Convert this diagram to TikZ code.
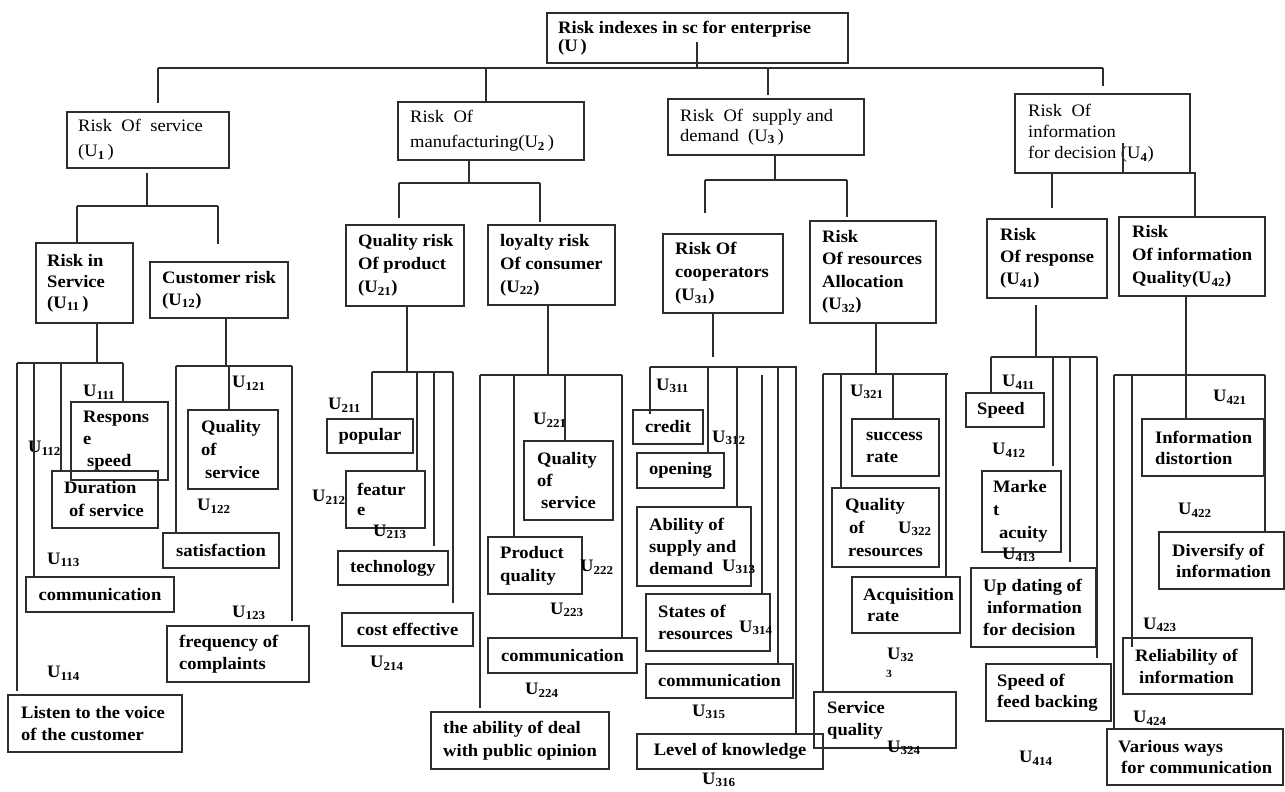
\documentclass[tikz,border=0pt]{standalone}
\usepackage{fontspec}
\setmainfont{Liberation Serif}[FakeStretch=1.06]
\definecolor{lc}{RGB}{45,45,45}
\newcommand\fsb[1]{\fontsize{17.5}{#1}\selectfont\bfseries}
\newcommand\fsr[1]{\fontsize{17.5}{#1}\selectfont\mdseries}
\newcommand\subU[1]{\textsubscript{\bfseries #1}}
\begin{document}
\begin{tikzpicture}[x=1pt,y=-1pt,
  bx/.style 2 args={draw=lc, line width=1.1pt, minimum width=#1, minimum height=#2, anchor=north west, inner sep=0pt, outer sep=0pt, font=\fsb{21}},
  tl/.style={anchor=west, align=left, inner sep=0pt, font=\fsb{21}},
  ul/.style={anchor=west, inner sep=0pt, font=\fsb{21}},
  ln/.style={draw=lc, line width=1.1pt},
  tk/.style={draw=lc, line width=1.9pt}]
\useasboundingbox[fill=white] (0,0) rectangle (1285,792);

% ---------- level 0 and 1 ----------
\node[bx={301}{50}, label={[tl,xshift=11pt,font=\fsb{18}]west:{Risk indexes in sc for enterprise\\(U\,)}}] (root) at (547,13) {};
\node[bx={162}{56}, label={[tl,xshift=11pt,font=\fsr{25}]west:{Risk~ Of~ service\\(U\subU{1}\,)}}] (u1) at (67,112) {};
\node[bx={186}{58}, label={[tl,xshift=12pt,font=\fsr{25}]west:{Risk~ Of\\manufacturing(U\subU{2}\,)}}] (u2) at (398,102) {};
\node[bx={196}{56}, label={[tl,xshift=12pt,font=\fsr{20}]west:{Risk~ Of~ supply and\\demand~ (U\subU{3}\,)}}] (u3) at (668,99) {};
\node[bx={175}{79}, label={[tl,xshift=13pt,font=\fsr{21}]west:{Risk~ Of\\information\\for decision (U\subU{4})}}] (u4) at (1015,94) {};

% ---------- level 2 ----------
\node[bx={97}{80}, label={[tl,xshift=11pt]west:{Risk in\\Service\\(U\subU{11}\,)}}] (u11) at (36,243) {};
\node[bx={138}{56}, label={[tl,xshift=12pt,font=\fsb{22}]west:{Customer risk\\(U\subU{12})}}] (u12) at (150,262) {};
\node[bx={118}{81}, label={[tl,xshift=12pt,font=\fsb{23}]west:{Quality risk\\Of product\\(U\subU{21})}}] (u21) at (346,225) {};
\node[bx={127}{80}, label={[tl,xshift=12pt,font=\fsb{23}]west:{loyalty risk\\Of consumer\\(U\subU{22})}}] (u22) at (488,225) {};
\node[bx={120}{79}, label={[tl,xshift=12pt,font=\fsb{23}]west:{Risk Of\\cooperators\\(U\subU{31})}}] (u31) at (663,234) {};
\node[bx={126}{102}, label={[tl,xshift=12pt,font=\fsb{22.5}]west:{Risk\\Of resources\\Allocation\\(U\subU{32})}}] (u32) at (810,221) {};
\node[bx={120}{79}, label={[tl,xshift=13pt,font=\fsb{22}]west:{Risk\\Of response\\(U\subU{41})}}] (u41) at (987,219) {};
\node[bx={146}{79}, label={[tl,xshift=13pt,font=\fsb{23}]west:{Risk\\Of information\\Quality(U\subU{42})}}] (u42) at (1119,217) {};

% ---------- leaves U1 ----------
\node[bx={97}{78}, label={[tl,xshift=12pt,font=\fsb{22}]west:{Respons\\e\\\hspace{4pt}speed}}] (resp) at (71,402) {};
\node[bx={106}{57}, label={[tl,xshift=12pt,font=\fsb{23}]west:{Duration\\\hspace{5pt}of service}}] (dur) at (52,471) {};
\node[bx={148}{35}] (comA) at (26,577) {communication};
\node[bx={174}{57}, label={[tl,xshift=13pt,font=\fsb{22}]west:{Listen to the voice\\of the customer}}] (listen) at (8,695) {};
\node[bx={90}{79}, label={[tl,xshift=13pt,font=\fsb{23}]west:{Quality\\of\\\hspace{4pt}service}}] (qosA) at (188,410) {};
\node[bx={116}{35}] (sat) at (163,533) {satisfaction};
\node[bx={142}{56}, label={[tl,xshift=12pt,font=\fsb{22}]west:{frequency of\\complaints}}] (freq) at (167,626) {};

% ---------- leaves U2 ----------
\node[bx={86}{34}] (pop) at (327,419) {popular};
\node[bx={79}{57}, label={[tl,xshift=11pt,font=\fsb{20}]west:{featur\\e}}] (feat) at (346,471) {};
\node[bx={110}{34}] (tech) at (338,551) {technology};
\node[bx={131}{33}] (cost) at (342,613) {cost effective};
\node[bx={89}{79}, label={[tl,xshift=13pt,font=\fsb{22}]west:{Quality\\of\\\hspace{4pt}service}}] (qosB) at (524,441) {};
\node[bx={94}{57}, label={[tl,xshift=12pt,font=\fsb{23}]west:{Product\\quality}}] (pq) at (488,537) {};
\node[bx={149}{35}] (comB) at (488,638) {communication};
\node[bx={178}{57}, label={[tl,xshift=12pt,font=\fsb{23}]west:{the ability of deal\\with public opinion}}] (abl) at (431,712) {};

% ---------- leaves U3 ----------
\node[bx={70}{34}] (credit) at (633,410) {credit};
\node[bx={87}{35}] (open) at (637,453) {opening};
\node[bx={114}{79}, label={[tl,xshift=12pt,font=\fsb{22}]west:{Ability of\\supply and\\demand}}] (abil) at (637,507) {};
\node[bx={124}{57}, label={[tl,xshift=12pt,font=\fsb{22}]west:{States of\\resources}}] (states) at (646,594) {};
\node[bx={147}{34}] (comC) at (646,664) {communication};
\node[bx={186}{35}] (level) at (637,734) {Level of knowledge};
\node[bx={87}{57}, label={[tl,xshift=14pt,font=\fsb{22}]west:{success\\rate}}] (succ) at (852,419) {};
\node[bx={107}{79}, label={[tl,xshift=13pt,font=\fsb{23}]west:{Quality\\\hspace{4pt}of\\\hspace{3pt}resources}}] (qres) at (832,488) {};
\node[bx={108}{56}, label={[tl,xshift=11pt,font=\fsb{21}]west:{Acquisition\\\hspace{4pt}rate}}] (acq) at (852,577) {};
\node[bx={142}{56}, label={[tl,xshift=13pt,font=\fsb{22}]west:{Service\\quality}}] (servq) at (814,692) {};

% ---------- leaves U4 ----------
\node[bx={78}{34}, label={[tl,xshift=11pt]west:{Speed}}] (speed) at (966,393) {};
\node[bx={79}{81}, label={[tl,xshift=11pt,font=\fsb{23}]west:{Marke\\t\\\hspace{6pt}acuity}}] (market) at (982,471) {};
\node[bx={125}{79}, label={[tl,xshift=12pt,font=\fsb{22}]west:{Up dating of\\\hspace{4pt}information\\for decision}}] (upd) at (971,568) {};
\node[bx={125}{57}, label={[tl,xshift=11pt,font=\fsb{21}]west:{Speed of\\feed backing}}] (sofb) at (986,664) {};
\node[bx={122}{57}, label={[tl,xshift=13pt,font=\fsb{21}]west:{Information\\distortion}}] (idist) at (1142,419) {};
\node[bx={125}{57}, label={[tl,xshift=13pt,font=\fsb{21}]west:{Diversify of\\\hspace{4pt}information}}] (div) at (1159,532) {};
\node[bx={129}{56}, label={[tl,xshift=12pt,font=\fsb{22}]west:{Reliability of\\\hspace{4pt}information}}] (rel) at (1123,638) {};
\node[bx={176}{56}, label={[tl,xshift=11pt,font=\fsb{21}]west:{Various ways\\\hspace{3pt}for communication}}] (var) at (1107,729) {};

% ---------- U labels ----------
\node[ul] (l111) at (83,392) {U\subU{111}};
\node[ul] (l112) at (28,448) {U\subU{112}};
\node[ul] (l113) at (47,560) {U\subU{113}};
\node[ul] (l114) at (47,673) {U\subU{114}};
\node[ul] (l121) at (232,383) {U\subU{121}};
\node[ul] (l122) at (197,506) {U\subU{122}};
\node[ul] (l123) at (232,613) {U\subU{123}};
\node[ul] (l211) at (328,405) {U\subU{211}};
\node[ul] (l212) at (312,497) {U\subU{212}};
\node[ul] (l213) at (373,532) {U\subU{213}};
\node[ul] (l214) at (370,663) {U\subU{214}};
\node[ul] (l221) at (533,420) {U\subU{221}};
\node[ul] (l222) at (580,567) {U\subU{222}};
\node[ul] (l223) at (550,610) {U\subU{223}};
\node[ul] (l224) at (525,690) {U\subU{224}};
\node[ul] (l311) at (656,386) {U\subU{311}};
\node[ul] (l312) at (712,438) {U\subU{312}};
\node[ul] (l313) at (722,567) {U\subU{313}};
\node[ul] (l314) at (739,628) {U\subU{314}};
\node[ul] (l315) at (692,712) {U\subU{315}};
\node[ul] (l316) at (702,780) {U\subU{316}};
\node[ul] (l321) at (850,392) {U\subU{321}};
\node[ul] (l322) at (898,529) {U\subU{322}};
\node[ul] (l323) at (887,655) {U\subU{32}};
\node[ul, font=\fontsize{11}{12}\selectfont\bfseries] (l323b) at (886,674) {3};
\node[ul] (l324) at (887,748) {U\subU{324}};
\node[ul] (l411) at (1002,382) {U\subU{411}};
\node[ul] (l412) at (992,450) {U\subU{412}};
\node[ul] (l413) at (1002,555) {U\subU{413}};
\node[ul] (l414) at (1019,758) {U\subU{414}};
\node[ul] (l421) at (1213,397) {U\subU{421}};
\node[ul] (l422) at (1178,510) {U\subU{422}};
\node[ul] (l423) at (1143,625) {U\subU{423}};
\node[ul] (l424) at (1133,718) {U\subU{424}};

% ---------- connectors: top ----------
\coordinate (bar) at (697,68);
\draw[ln] (697,42) -- (bar);
\draw[ln] (158,68) -- (1103,68);
\draw[ln] (158,68) -- (158,103);
\draw[ln] (486,68) -- (486,0 |- u2.north);
\draw[ln] (768,68) -- (768,95);
\draw[ln] (1103,68) -- (1103,86);

% U1
\draw[ln] (147,173) -- (147,206);
\draw[ln] (77,206) -- (218,206);
\draw[ln] (77,206) -- (77,0 |- u11.north);
\draw[ln] (218,206) -- (218,244);
% U2
\draw[ln] (469,0 |- u2.south) -- (469,183);
\draw[ln] (399,183) -- (540,183);
\draw[ln] (399,183) -- (399,218);
\draw[ln] (540,183) -- (540,222);
% U3
\draw[ln] (775,0 |- u3.south) -- (775,180);
\draw[ln] (705,180) -- (847,180);
\draw[ln] (705,180) -- (705,213);
\draw[ln] (847,180) -- (847,217);
% U4
\draw[ln] (1123,143) -- (1123,0 |- u4.south);
\draw[ln] (1052,0 |- u4.south) -- (1052,208);
\draw[ln] (u4.south east) -- (1195,173) -- (1195,0 |- u42.north);

% U11
\draw[ln] (97,0 |- u11.south) -- (97,363);
\draw[ln] (17,363) -- (123,363);
\draw[ln] (17,363) -- (17,691);
\draw[ln] (34,363) -- (34,0 |- comA.north);
\draw[ln] (61,363) -- (61,0 |- dur.north);
\draw[ln] (123,363) -- (123,0 |- resp.north);
% U12
\draw[ln] (226,0 |- u12.south) -- (226,366);
\draw[ln] (176,366) -- (292,366);
\draw[ln] (176,366) -- (176,0 |- sat.north);
\draw[ln] (229,366) -- (229,0 |- qosA.north);
\draw[ln] (292,366) -- (292,621);
% U21
\draw[ln] (407,0 |- u21.south) -- (407,372);
\draw[ln] (372,372) -- (453,372);
\draw[ln] (372,372) -- (372,0 |- pop.north);
\draw[ln] (417,372) -- (417,0 |- feat.north);
\draw[ln] (434,372) -- (434,546);
\draw[ln] (453,372) -- (453,603);
% U22
\draw[ln] (548,0 |- u22.south) -- (548,375);
\draw[ln] (480,375) -- (622,375);
\draw[ln] (480,375) -- (480,708);
\draw[ln] (514,375) -- (514,0 |- pq.north);
\draw[ln] (565,375) -- (565,0 |- qosB.north);
\draw[ln] (622,375) -- (622,0 |- comB.north);
% U31
\draw[ln] (713,0 |- u31.south) -- (713,357);
\draw[ln] (650,367) -- (797,367);
\draw[ln] (650,367) -- (650,414);
\draw[ln] (708,367) -- (708,0 |- open.north);
\draw[ln] (737,367) -- (737,0 |- abil.north);
\draw[ln] (762,375) -- (762,0 |- states.north);
\draw[tk] (778,367) -- (778,0 |- comC.north);
\draw[tk] (796,367) -- (796,0 |- level.north);
% U32
\draw[ln] (876,0 |- u32.south) -- (876,374);
\draw[ln] (823,374) -- (948,374);
\draw[tk] (823,374) -- (823,0 |- servq.north);
\draw[ln] (841,374) -- (841,0 |- qres.north);
\draw[ln] (893,374) -- (893,0 |- succ.north);
\draw[ln] (946,374) -- (946,0 |- acq.north);
% U41
\draw[ln] (1036,305) -- (1036,357);
\draw[ln] (991,357) -- (1097,357);
\draw[ln] (991,357) -- (991,0 |- speed.north);
\draw[ln] (1053,357) -- (1053,466);
\draw[ln] (1070,357) -- (1070,562);
\draw[ln] (1097,357) -- (1097,658);
\draw[tk] (upd.north east) -- (upd.south east);
% U42
\draw[ln] (1186,0 |- u42.south) -- (1186,0 |- idist.north);
\draw[ln] (1114,375) -- (1265,375);
\draw[ln] (1114,375) -- (1114,0 |- var.north);
\draw[ln] (1132,375) -- (1132,647);
\draw[ln] (1265,375) -- (1265,0 |- div.north);
\draw[tk] (idist.north east) -- (idist.south east);
\end{tikzpicture}
\end{document}
